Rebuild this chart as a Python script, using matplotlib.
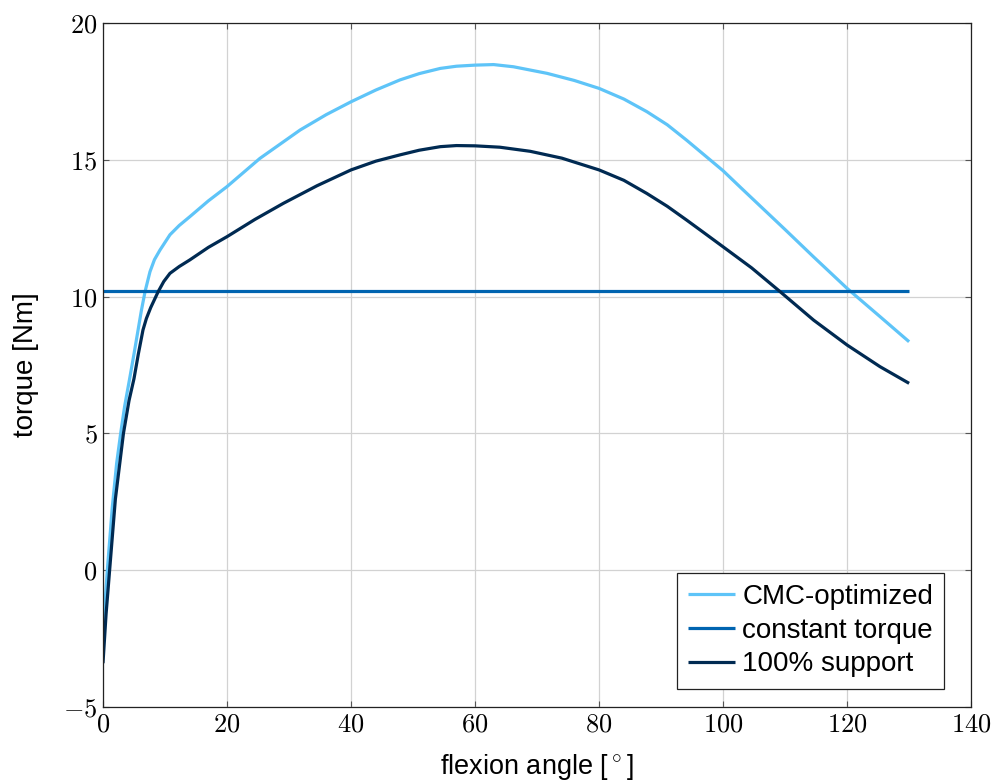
import matplotlib
matplotlib.use("Agg")
import matplotlib.pyplot as plt
from matplotlib.ticker import FuncFormatter

# ---- data ----
cmc_x = [0, 0.7, 1.5, 2.2, 2.85, 3.5, 4.3, 5.0, 5.6, 6.2, 6.8, 7.58, 8.3, 9.19, 10.8,
         12.3, 14.0, 17, 20, 25.3, 31.8, 36, 40, 44, 47.9, 51, 54.4, 57, 60, 63, 66.2,
         71.6, 76, 80, 84, 87.7, 91, 94.1, 97, 100, 103, 106.5, 110, 114.6, 120,
         125.3, 130]
cmc_y = [-2.3, 0, 2.3, 3.9, 5.0, 6.0, 7.0, 7.9, 8.7, 9.5, 10.2, 10.91, 11.35, 11.70, 12.26,
         12.6, 12.92, 13.5, 14.02, 15.05, 16.09, 16.65, 17.12, 17.55, 17.92, 18.15, 18.34,
         18.42, 18.46, 18.48, 18.40, 18.16, 17.9, 17.61, 17.22, 16.76, 16.28, 15.72,
         15.17, 14.6, 13.95, 13.2, 12.45, 11.45, 10.3, 9.27, 8.35]

const_x = [0, 130]
const_y = [10.2, 10.2]

sup_x = [0, 0.5, 1.07, 2.0, 3.3, 4.2, 5.0, 5.7, 6.45, 7.0, 7.7, 8.9, 9.8, 10.8, 12.3,
         14.0, 17, 20, 24.5, 29.1, 34.5, 40, 44, 47.9, 51, 54.4, 57, 60, 64, 68.9, 74,
         80, 84, 87.7, 91, 94.1, 97, 100, 104.6, 109.2, 114.6, 120, 125.3, 130]
sup_y = [-3.4, -1.6, 0, 2.6, 5.0, 6.2, 7.0, 7.9, 8.78, 9.2, 9.6, 10.18, 10.55, 10.85, 11.1,
         11.34, 11.8, 12.19, 12.82, 13.41, 14.05, 14.63, 14.95, 15.18, 15.35, 15.48, 15.52,
         15.51, 15.46, 15.31, 15.06, 14.63, 14.25, 13.77, 13.3, 12.80, 12.32, 11.82,
         11.05, 10.18, 9.14, 8.23, 7.44, 6.83]

labels = ["CMC-optimized", "constant torque", "100% support"]
colors = ["#5ec4f8", "#0064b0", "#002a52"]

x_ticks = [0, 20, 40, 60, 80, 100, 120, 140]
y_ticks = [-5, 0, 5, 10, 15, 20]

plt.rcParams["mathtext.fontset"] = "cm"
plt.rcParams["font.family"] = ["Liberation Sans", "DejaVu Sans"]

fig = plt.figure(figsize=(9.95, 7.82), dpi=100)
ax = fig.add_axes([0.1035, 0.0959, 0.8725, 0.8747])

for xs, ys, lab, col in zip([cmc_x, const_x, sup_x], [cmc_y, const_y, sup_y], labels, colors):
    ax.plot(xs, ys, color=col, lw=2.3, label=lab, solid_capstyle="butt",
            solid_joinstyle="round")

ax.set_xlim(0, 140)
ax.set_ylim(-5, 20)
ax.set_xticks(x_ticks)
ax.set_yticks(y_ticks)
fmt = FuncFormatter(lambda v, p: r"$%g$" % v)
ax.xaxis.set_major_formatter(fmt)
ax.yaxis.set_major_formatter(fmt)
ax.tick_params(direction="in", length=4.5, width=0.8, top=True, right=True,
               labelsize=19, pad=4, color="#555555")
ax.grid(True, color="#d2d2d2", lw=0.9)
ax.set_axisbelow(True)
for s in ax.spines.values():
    s.set_linewidth(0.9)
    s.set_color("#222222")

ax.set_xlabel(r"flexion angle [$^\circ$]", fontsize=19.5, labelpad=11)
ax.set_ylabel("torque [Nm]", fontsize=20, labelpad=17)

leg = ax.legend(loc="lower right", bbox_to_anchor=(0.969, 0.027), fontsize=20,
                frameon=True, fancybox=False, edgecolor="#222222", framealpha=1,
                handlelength=1.7, handletextpad=0.25, borderpad=0.4,
                labelspacing=0.28, borderaxespad=0.0)
leg.get_frame().set_linewidth(0.9)

fig.savefig("out.png", dpi=100)
